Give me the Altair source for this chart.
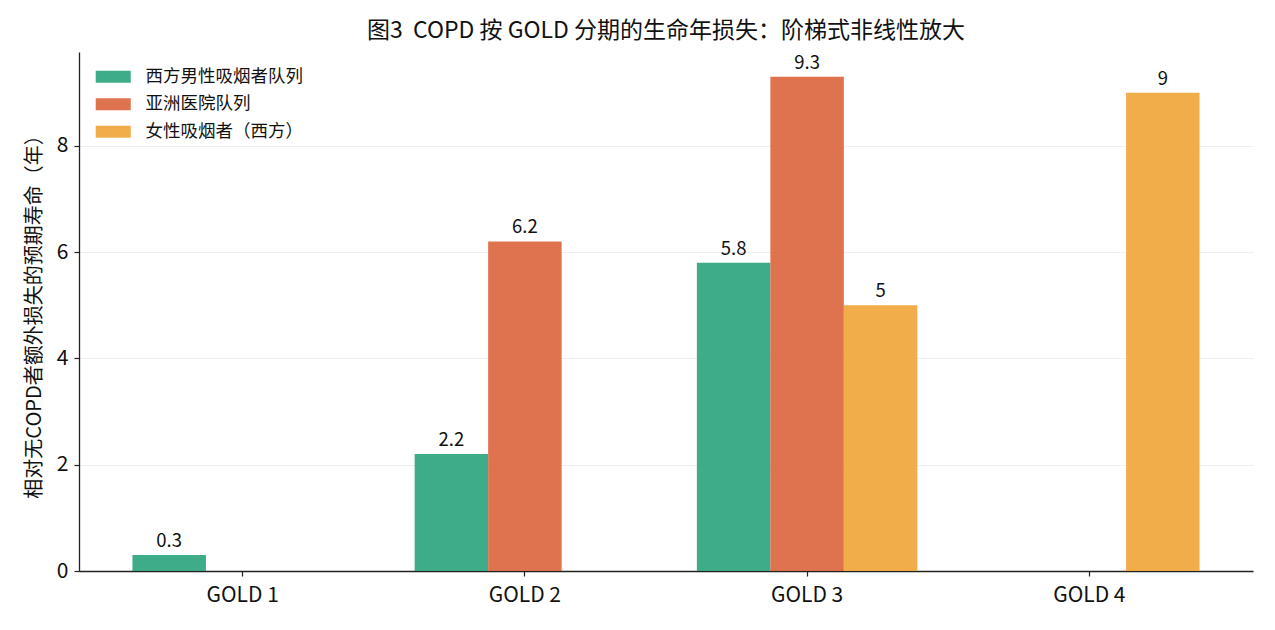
import altair as alt
import pandas as pd

stages = ["GOLD 1", "GOLD 2", "GOLD 3", "GOLD 4"]
cohorts = ["西方男性吸烟者队列", "亚洲医院队列", "女性吸烟者（西方）"]
western_male = [0.3, 2.2, 5.8, None]
asian_hospital = [None, 6.2, 9.3, None]
female_western = [None, None, 5.0, 9.0]
y_ticks = [0, 2, 4, 6, 8]

colors = ["#29A37C", "#DC643C", "#EFA436"]
FONT = "Noto Sans CJK SC"

rows = []
for cohort, series in zip(cohorts, [western_male, asian_hospital, female_western]):
    for stage, v in zip(stages, series):
        if v is not None:
            rows.append({"stage": stage, "cohort": cohort, "value": v})
df = pd.DataFrame(rows)

base = alt.Chart(df).encode(
    x=alt.X(
        "stage:N",
        sort=stages,
        scale=alt.Scale(domain=stages, paddingInner=0, paddingOuter=0.08),
        axis=alt.Axis(title=None, labelAngle=0, grid=False, labelPadding=8),
    ),
    xOffset=alt.XOffset(
        "cohort:N",
        sort=cohorts,
        scale=alt.Scale(domain=cohorts, paddingInner=0, paddingOuter=0.42),
    ),
    y=alt.Y(
        "value:Q",
        scale=alt.Scale(domain=[0, 9.765], nice=False),
        axis=alt.Axis(
            values=y_ticks,
            title="相对无COPD者额外损失的预期寿命（年）",
            grid=True,
            gridColor="#ebebeb",
            gridWidth=0.8,
            titlePadding=12,
        ),
    ),
)

bars = base.mark_bar(opacity=0.9).encode(
    color=alt.Color(
        "cohort:N",
        sort=cohorts,
        scale=alt.Scale(domain=cohorts, range=colors),
        legend=alt.Legend(
            title=None,
            orient="none",
            legendX=25.5,
            legendY=16,
            padding=0,
            labelFontSize=17.5,
            labelColor="#111",
            labelOffset=23.5,
            rowPadding=8.5,
            symbolType="M-2.92,-1H2.92V1H-2.92Z",
            symbolSize=144,
            symbolStrokeWidth=0,
            symbolOpacity=0.9,
        ),
    )
)

labels = base.mark_text(
    baseline="alphabetic", dy=-8, fontSize=18.5, color="#111"
).encode(text=alt.Text("value:Q", format="~g"))

chart = (
    (bars + labels)
    .properties(
        width=1174,
        height=519,
        autosize=alt.AutoSizeParams(type="none"),
        padding={"left": 71, "top": 44, "right": 14, "bottom": 51},
        title=alt.TitleParams(
            text="图3\u00a0\u00a0COPD 按 GOLD 分期的生命年损失：阶梯式非线性放大",
            fontSize=23,
            fontWeight="normal",
            anchor="middle",
            offset=9,
            color="#111",
        ),
    )
    .configure(font=FONT)
    .configure_view(stroke=None)
    .configure_axis(
        domainColor="#222",
        domainWidth=1.3,
        tickColor="#222",
        tickWidth=1.2,
        tickSize=5,
        labelFontSize=21,
        labelColor="#111",
        labelPadding=6,
        titleFontSize=20,
        titleFontWeight="normal",
        titleColor="#111",
    )
)

chart.save("out.html", embed_options={"renderer": "svg", "actions": False})
